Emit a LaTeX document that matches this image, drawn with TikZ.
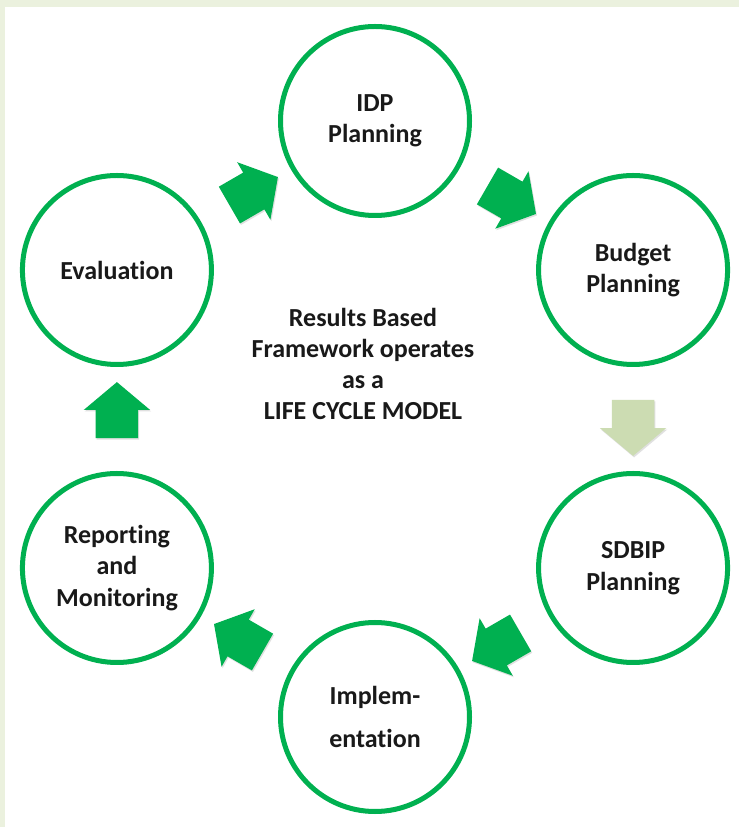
\documentclass[tikz,border=0pt]{standalone}
\usepackage{fontspec}
\setmainfont{Carlito}[Ligatures=NoCommon]
\usetikzlibrary{shapes.arrows,calc,shadows}
\definecolor{ringgreen}{RGB}{0,176,80}
\definecolor{palegreen}{RGB}{204,220,178}
\definecolor{framebg}{RGB}{235,241,222}
\tikzset{
  stage/.style={circle, draw=ringgreen, line width=5pt, fill=white, minimum size=189pt,
    inner sep=0pt, align=center, font=\bfseries\fontsize{26}{31.5}\selectfont, text=black!90,
    drop shadow={shadow xshift=1pt, shadow yshift=-2pt, opacity=0.25, fill=black!60}},
  flowarrow/.style={single arrow, fill=ringgreen, draw=none, inner xsep=0pt, inner ysep=21pt,
    single arrow head extend=12pt, single arrow tip angle=100, minimum height=56pt,
    drop shadow={shadow xshift=1pt, shadow yshift=-1.5pt, opacity=0.2, fill=black!60}},
  palearrow/.style={flowarrow, fill=palegreen},
  centertext/.style={align=center, font=\bfseries\fontsize{26}{31}\selectfont, text=black!90}
}
\begin{document}
\begin{tikzpicture}[x=1pt,y=1pt]
\useasboundingbox (0,0) rectangle (739,827);
\fill[framebg] (0,0) rectangle (739,827);
\fill[white] (5,0) rectangle (739,820);
\coordinate (hub) at (375,408);
\node[stage] (idp) at ($(hub)+(90:298)$) {IDP\\Planning};
\node[stage] (budget) at ($(hub)+(30:298)$) {Budget\\Planning};
\node[stage] (sdbip) at ($(hub)+(-30:298)$) {SDBIP\\Planning};
\node[stage] (impl) at ($(hub)+(-90:298)$) {Implem-\\[12pt]entation};
\node[stage] (report) at ($(hub)+(-150:298)$) {Reporting\\and\\Monitoring};
\node[stage] (eval) at ($(hub)+(150:298)$) {Evaluation};
\node[centertext] (mid) at (363,463) {Results Based\\Framework operates\\as a\\LIFE CYCLE MODEL};
\node[flowarrow, rotate=30] (a1) at ($(eval)!0.5!(idp)$) {};
\node[flowarrow, rotate=-30] (a2) at ($(idp)!0.5!(budget)$) {};
\node[palearrow, rotate=-90] (a3) at ($(budget)!0.5!(sdbip)$) {};
\node[flowarrow, rotate=-150] (a4) at ($(sdbip)!0.5!(impl)$) {};
\node[flowarrow, rotate=150] (a5) at ($(impl)!0.5!(report)$) {};
\node[flowarrow, rotate=90] (a6) at ($(report)!0.5!(eval)$) {};
\end{tikzpicture}
\end{document}
